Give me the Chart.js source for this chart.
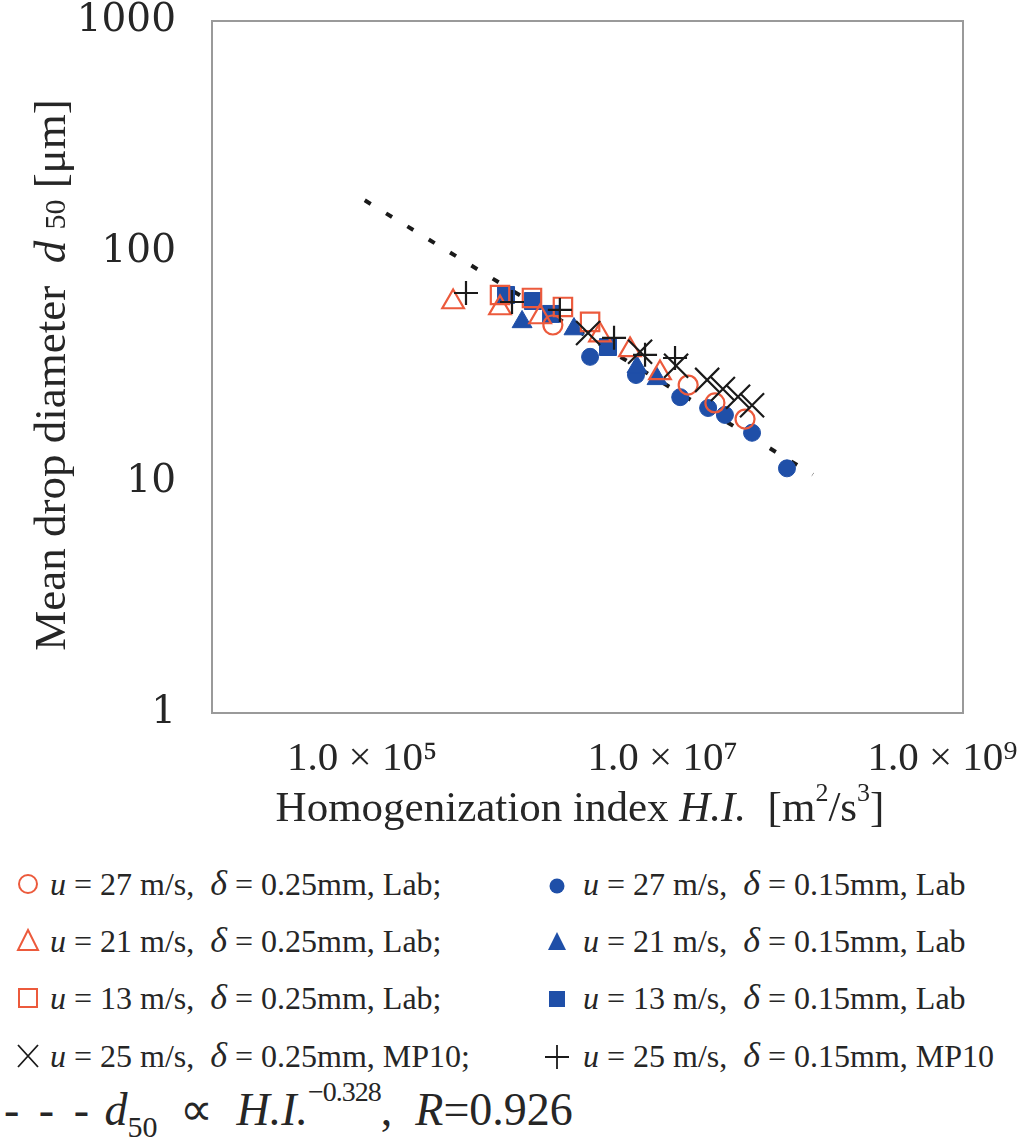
<!DOCTYPE html>
<html>
<head>
<meta charset="utf-8">
<script src="https://cdn.jsdelivr.net/npm/chart.js@4.4.0/dist/chart.umd.min.js"></script>
<style>
body { margin: 0; background: #fff; width: 1034px; height: 1140px; position: relative; overflow: hidden; font-family: "Liberation Serif", "Times New Roman", serif; color: #262626; }
#wrap { position: absolute; left: 0; top: 0; width: 1034px; height: 800px; }
.ytitle { position: absolute; left: -300px; top: 349px; width: 700px; height: 52px; line-height: 52px; text-align: center; font-size: 45px; transform: rotate(-90deg); white-space: nowrap; }
.ytitle .sub { font-size: 30px; }
.xtitle { position: absolute; left: 180px; top: 782px; width: 800px; text-align: center; font-size: 43px; white-space: nowrap; }
.xtitle sup { font-size: 26px; vertical-align: 20px; line-height: 0; }
.row { position: absolute; height: 40px; line-height: 40px; font-size: 32px; white-space: nowrap; }
.row i.dl { font-size: 36px; }
.mk { position: absolute; }
.formula { position: absolute; left: 4px; top: 1080px; font-size: 46px; white-space: nowrap; line-height: 60px; }
.formula sub { font-size: 30px; vertical-align: -12px; line-height: 0; }
.formula sup { font-size: 28px; vertical-align: 24px; line-height: 0; letter-spacing: -1px; }
</style>
</head>
<body>
<div id="wrap"><canvas id="chart" width="1034" height="800"></canvas></div>
<div class="ytitle">Mean drop diameter&nbsp; <i>d</i> <span class="sub">50</span> [μm]</div>
<div class="xtitle">Homogenization index <i>H.I.</i>&nbsp; [m<sup>2</sup>/s<sup>3</sup>]</div>
<div id="legend"></div>
<div class="formula"><span style="letter-spacing:4px">- - -</span> <i>d</i><sub>50</sub>&nbsp; ∝&nbsp; <i>H.I.</i><sup>−0.328</sup>,&nbsp; <i>R</i>=0.926</div>
<script>
// axis ticks
const xTicks = [1e5, 1e7, 1e9];
const yTicks = [1, 10, 100, 1000];

// delta = 0.25 mm, Lab (open red markers)
const circOpenX = [1.86e6, 1.48e7, 2.23e7, 3.54e7];
const circOpenY = [48.1, 26.4, 22.1, 18.8];
const triOpenX = [4.03e5, 8.27e5, 1.53e6, 3.83e6, 6.07e6, 9.61e6];
const triOpenY = [60.5, 57.0, 52.1, 43.5, 37.5, 29.8];
const sqOpenX = [8.27e5, 1.35e6, 2.17e6, 3.29e6];
const sqOpenY = [64.9, 63.0, 57.6, 49.6];

// delta = 0.15 mm, Lab (filled blue markers)
const circFillX = [3.29e6, 6.65e6, 1.31e7, 2.01e7, 2.60e7, 3.94e7, 6.73e7];
const circFillY = [35.0, 29.2, 23.4, 21.0, 19.6, 16.4, 11.5];
const triFillX = [1.16e6, 2.57e6, 6.75e6, 9.18e6];
const triFillY = [49.6, 46.2, 31.6, 28.1];
const sqFillX = [9.07e5, 1.37e6, 1.81e6, 4.33e6];
const sqFillY = [64.9, 61.1, 53.7, 38.6];

// MP10
const xMP10X = [3.19e6, 7.08e6, 1.23e7, 1.98e7, 2.52e7, 3.18e7, 3.94e7];
const xMP10Y = [44.4, 36.8, 32.0, 27.8, 25.4, 23.5, 21.6];
const plusMP10X = [4.91e5, 9.94e5, 2.07e6, 4.75e6, 7.64e6, 1.21e7];
const plusMP10Y = [66.2, 60.5, 55.9, 42.3, 35.7, 34.6];

// fitted power law
const fitX = [1.04e5, 1.0e8];
const fitY = [167, 10.8];

// legend texts
const speeds = ['27', '21', '13', '25'];
const gapLeft = '0.25mm';
const gapRight = '0.15mm';
const siteLeft = ['Lab;', 'Lab;', 'Lab;', 'MP10;'];
const siteRight = ['Lab', 'Lab', 'Lab', 'MP10'];

const RED = '#ec5a3c';
const BLUE = '#1f4fa8';
const BLACK = '#1a1a1a';

function pts(xs, ys) {
    return xs.map((x, i) => ({ x: x, y: ys[i] }));
}

function markerSet(data, style, radius, color, filled, order) {
    return {
        data: data,
        pointStyle: style,
        pointRadius: radius,
        pointHoverRadius: radius,
        pointBackgroundColor: filled ? color : 'rgba(0,0,0,0)',
        pointBorderColor: color,
        pointBorderWidth: filled ? 1 : 2.2,
        order: order
    };
}

const framePlugin = {
    id: 'frame',
    beforeDatasetsDraw(chart) {
        const { ctx, chartArea: a } = chart;
        ctx.save();
        ctx.strokeStyle = '#9a9a9a';
        ctx.lineWidth = 2;
        ctx.strokeRect(a.left, a.top, a.right - a.left, a.bottom - a.top);
        ctx.restore();
    }
};

function sup(n) {
    return String(n).split('').map(c => '⁰¹²³⁴⁵⁶⁷⁸⁹'[+c]).join('');
}

const ctx = document.getElementById('chart').getContext('2d');
new Chart(ctx, {
    type: 'scatter',
    data: {
        datasets: [
            {
                data: pts(fitX, fitY),
                showLine: true,
                borderColor: BLACK,
                borderWidth: 4,
                borderDash: [7, 18],
                pointRadius: 0,
                order: 20
            },
            markerSet(pts(circFillX, circFillY), 'circle', 8.5, BLUE, true, 9),
            markerSet(pts(triFillX, triFillY), 'triangle', 11.5, BLUE, true, 8),
            markerSet(pts(sqFillX, sqFillY), 'rect', 12, BLUE, true, 7),
            markerSet(pts(circOpenX, circOpenY), 'circle', 9.5, RED, false, 6),
            markerSet(pts(triOpenX, triOpenY), 'triangle', 12.5, RED, false, 5),
            markerSet(pts(sqOpenX, sqOpenY), 'rect', 13, RED, false, 4),
            markerSet(pts(xMP10X, xMP10Y), 'crossRot', 17, BLACK, false, 2),
            markerSet(pts(plusMP10X, plusMP10Y), 'cross', 12, BLACK, false, 1)
        ]
    },
    options: {
        responsive: false,
        devicePixelRatio: 1,
        animation: false,
        layout: { padding: { left: 0, top: 21, right: 71, bottom: 0 } },
        plugins: { legend: { display: false }, tooltip: { enabled: false } },
        scales: {
            x: {
                type: 'logarithmic',
                min: 1e4,
                max: 1e9,
                grid: { display: false, drawTicks: false },
                border: { display: false },
                afterBuildTicks: s => { s.ticks = xTicks.map(v => ({ value: v })); },
                afterFit: s => { s.height = 87; s.paddingLeft = 0; s.paddingRight = 0; },
                ticks: {
                    autoSkip: false,
                    maxRotation: 0,
                    padding: 22,
                    color: '#262626',
                    font: { family: '"Liberation Serif", serif', size: 41 },
                    // last label sits a little left of its tick, as in the original
                    callback: (v, i, arr) => '1.0 × 10' + sup(Math.round(Math.log10(v))) + (i === arr.length - 1 ? '\u2003' : '')
                }
            },
            y: {
                type: 'logarithmic',
                min: 1,
                max: 1000,
                grid: { display: false, drawTicks: false },
                border: { display: false },
                afterBuildTicks: s => { s.ticks = yTicks.map(v => ({ value: v })); },
                afterFit: s => { s.width = 212; s.paddingTop = 0; s.paddingBottom = 0; },
                ticks: {
                    padding: 36,
                    color: '#262626',
                    font: { family: '"DejaVu Serif", serif', size: 39 },
                    callback: v => String(v)
                }
            }
        }
    },
    plugins: [framePlugin]
});

// legend built from the arrays above
function markerSvg(kind, left, top) {
    const s = '<svg class="mk" style="left:' + left + 'px;top:' + top + 'px" width="28" height="28" viewBox="0 0 28 28">';
    let body = '';
    if (kind === 'circOpen') body = '<circle cx="14" cy="14" r="9" fill="none" stroke="' + RED + '" stroke-width="2"/>';
    if (kind === 'triOpen') body = '<polygon points="14,3 24,23 4,23" fill="none" stroke="' + RED + '" stroke-width="2"/>';
    if (kind === 'sqOpen') body = '<rect x="5" y="5" width="18" height="18" fill="none" stroke="' + RED + '" stroke-width="2"/>';
    if (kind === 'xMP10') body = '<path d="M4 3 L24 25 M24 3 L4 25" stroke="' + BLACK + '" stroke-width="1.8"/>';
    if (kind === 'circFill') body = '<circle cx="14" cy="15" r="7.5" fill="' + BLUE + '"/>';
    if (kind === 'triFill') body = '<polygon points="14,4 23,22 5,22" fill="' + BLUE + '"/>';
    if (kind === 'sqFill') body = '<rect x="6" y="6" width="16" height="16" fill="' + BLUE + '"/>';
    if (kind === 'plusMP10') body = '<path d="M14 2 L14 26 M2 14 L26 14" stroke="' + BLACK + '" stroke-width="1.8"/>';
    return s + body + '</svg>';
}

const leftKinds = ['circOpen', 'triOpen', 'sqOpen', 'xMP10'];
const rightKinds = ['circFill', 'triFill', 'sqFill', 'plusMP10'];
const rowTops = [863, 920, 977, 1035];
const legend = document.getElementById('legend');
let html = '';
speeds.forEach((u, i) => {
    const top = rowTops[i];
    html += markerSvg(leftKinds[i], 14, top + 7);
    html += '<div class="row" style="left:50px;top:' + top + 'px"><i>u</i> = ' + u + ' m/s,&nbsp; <i class="dl">δ</i> = ' + gapLeft + ', ' + siteLeft[i] + '</div>';
    html += markerSvg(rightKinds[i], 543, top + 8);
    html += '<div class="row" style="left:583px;top:' + top + 'px"><i>u</i> = ' + u + ' m/s,&nbsp; <i class="dl">δ</i> = ' + gapRight + ', ' + siteRight[i] + '</div>';
});
legend.innerHTML = html;
</script>
</body>
</html>
